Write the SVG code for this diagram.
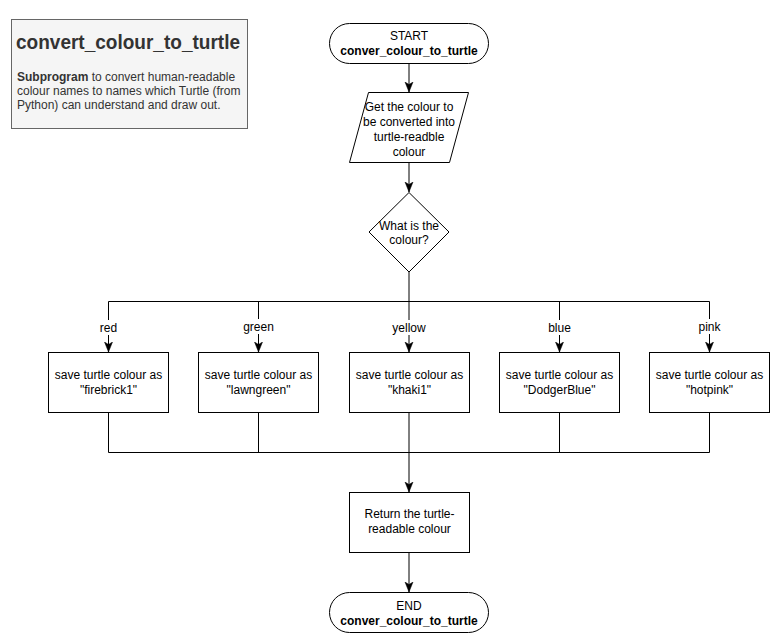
<svg xmlns="http://www.w3.org/2000/svg" width="779" height="644" viewBox="0 0 779 644">
<style>
  text { font-family: "Liberation Sans", Arial, sans-serif; font-size: 12px; fill: #000; text-anchor: middle; }
  .shape { fill: #ffffff; stroke: #000; stroke-width: 1; }
  .line { fill: none; stroke: #000; stroke-width: 1; }
  .b { font-weight: bold; }
  .lblbg { fill: #ffffff; }
  .note { text-anchor: start; fill: #333333; font-size: 12px; }
</style>
<defs>
  <marker id="arr" markerUnits="userSpaceOnUse" markerWidth="10" markerHeight="10" viewBox="0 0 10 10" refX="10" refY="5" orient="auto">
    <path d="M0,1 L10,5 L0,9 L2.5,5 z" fill="#000" stroke="#000" stroke-width="0.5"/>
  </marker>
</defs>
<rect width="779" height="644" fill="#ffffff"/>

<g id="note">
  <rect x="11.5" y="19.5" width="236" height="109" fill="#f5f5f5" stroke="#666666"/>
  <text x="16" y="49" class="b" textLength="224" lengthAdjust="spacingAndGlyphs" style="font-size:20px;text-anchor:start;fill:#333333">convert_colour_to_turtle</text>
  <text x="17" y="81" class="note"><tspan font-weight="bold">Subprogram</tspan> to convert human-readable</text>
  <text x="17" y="95" class="note">colour names to names which Turtle (from</text>
  <text x="17" y="109" class="note">Python) can understand and draw out.</text>
</g>

<g id="connectors">
  <line class="line" x1="409" y1="63" x2="409" y2="92" marker-end="url(#arr)"/>
  <line class="line" x1="409" y1="163" x2="409" y2="192" marker-end="url(#arr)"/>
  <polyline class="line" points="409,272 409,301.5"/>
  <polyline class="line" points="108.5,301.5 709.5,301.5"/>
  <line class="line" x1="108.5" y1="301.5" x2="108.5" y2="352" marker-end="url(#arr)"/>
  <line class="line" x1="258.5" y1="301.5" x2="258.5" y2="352" marker-end="url(#arr)"/>
  <line class="line" x1="409" y1="301.5" x2="409" y2="352" marker-end="url(#arr)"/>
  <line class="line" x1="559.5" y1="301.5" x2="559.5" y2="352" marker-end="url(#arr)"/>
  <line class="line" x1="709.5" y1="301.5" x2="709.5" y2="352" marker-end="url(#arr)"/>
  <line class="line" x1="108.5" y1="412" x2="108.5" y2="452.5"/>
  <line class="line" x1="258.5" y1="412" x2="258.5" y2="452.5"/>
  <line class="line" x1="559.5" y1="412" x2="559.5" y2="452.5"/>
  <line class="line" x1="709.5" y1="412" x2="709.5" y2="452.5"/>
  <line class="line" x1="108.5" y1="452.5" x2="709.5" y2="452.5"/>
  <line class="line" x1="409" y1="412" x2="409" y2="492" marker-end="url(#arr)"/>
  <line class="line" x1="409" y1="552" x2="409" y2="592" marker-end="url(#arr)"/>
  <rect class="lblbg" x="97" y="320" width="23" height="15"/>
  <text x="108.5" y="332">red</text>
  <rect class="lblbg" x="242" y="319" width="33" height="15"/>
  <text x="258.5" y="331">green</text>
  <rect class="lblbg" x="390" y="320" width="38" height="15"/>
  <text x="409" y="332">yellow</text>
  <rect class="lblbg" x="546" y="320" width="27" height="15"/>
  <text x="559.5" y="332">blue</text>
  <rect class="lblbg" x="696" y="319" width="27" height="15"/>
  <text x="709.5" y="331">pink</text>
</g>

<g id="start">
  <rect class="shape" x="329.5" y="23.5" width="159" height="40" rx="20" ry="20"/>
  <text x="409" y="40">START</text>
  <text x="409" y="55" class="b">conver_colour_to_turtle</text>
</g>

<g id="input">
  <polygon class="shape" points="368.5,92.5 468.5,92.5 449.5,162.5 349.5,162.5"/>
  <text x="409" y="111">Get the colour to</text>
  <text x="409" y="126">be converted into</text>
  <text x="409" y="141">turtle-readble</text>
  <text x="409" y="156">colour</text>
</g>

<g id="decision">
  <polygon class="shape" points="409,192.5 449,232 409,272 369,232"/>
  <text x="409" y="230">What is the</text>
  <text x="409" y="244">colour?</text>
</g>

<g id="red">
  <rect class="shape" x="48.5" y="352.5" width="120" height="60"/>
  <text x="108.5" y="379">save turtle colour as</text>
  <text x="108.5" y="394">"firebrick1"</text>
</g>
<g id="green">
  <rect class="shape" x="198.5" y="352.5" width="120" height="60"/>
  <text x="258.5" y="379">save turtle colour as</text>
  <text x="258.5" y="394">"lawngreen"</text>
</g>
<g id="yellow">
  <rect class="shape" x="349.5" y="352.5" width="120" height="60"/>
  <text x="409.5" y="379">save turtle colour as</text>
  <text x="409.5" y="394">"khaki1"</text>
</g>
<g id="blue">
  <rect class="shape" x="499.5" y="352.5" width="120" height="60"/>
  <text x="559.5" y="379">save turtle colour as</text>
  <text x="559.5" y="394">"DodgerBlue"</text>
</g>
<g id="pink">
  <rect class="shape" x="649.5" y="352.5" width="120" height="60"/>
  <text x="709.5" y="379">save turtle colour as</text>
  <text x="709.5" y="394">"hotpink"</text>
</g>

<g id="return">
  <rect class="shape" x="349.5" y="492.5" width="120" height="60"/>
  <text x="409.5" y="518">Return the turtle-</text>
  <text x="409.5" y="533">readable colour</text>
</g>

<g id="end">
  <rect class="shape" x="329.5" y="592.5" width="159" height="40" rx="20" ry="20"/>
  <text x="409" y="610">END</text>
  <text x="409" y="625" class="b">conver_colour_to_turtle</text>
</g>
</svg>
